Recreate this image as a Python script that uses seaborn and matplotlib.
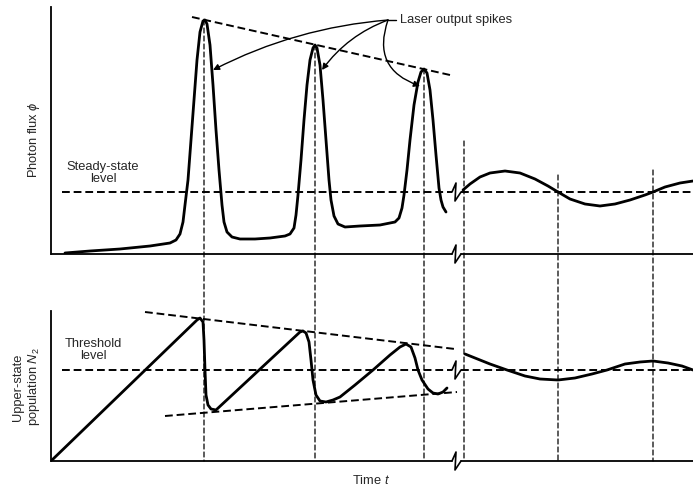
import matplotlib
matplotlib.use("Agg")
import matplotlib.pyplot as plt
import seaborn as sns
from matplotlib.patches import ConnectionPatch

# ---------------- data (time in arbitrary units) ----------------
# photon flux, spiking part (before the time-axis break)
flux_t1 = [14, 39, 69, 99, 119, 125, 129, 132, 134, 137, 140, 143, 146, 149, 152, 154,
           156, 159, 162, 165, 168, 171, 173, 176, 181, 189, 204, 219, 234, 239, 243,
           245, 247, 250, 253, 256, 259, 262, 264, 266, 269, 272, 275, 278, 280, 283,
           287, 294, 309, 329, 344, 348, 351, 353, 356, 359, 363, 367, 370, 373, 376,
           379, 382, 385, 388, 390, 392, 395]
flux_v1 = [1, 3, 5, 8, 11, 14, 20, 32, 49, 74, 114, 154, 194, 222, 233, 234,
           230, 209, 169, 124, 84, 49, 32, 22, 17, 15, 15, 16, 18, 20, 26,
           39, 59, 94, 134, 169, 194, 206, 209, 206, 189, 154, 114, 74, 54, 38,
           30, 27, 28, 29, 32, 36, 46, 59, 84, 114, 149, 172, 182, 185, 181,
           164, 134, 99, 66, 54, 47, 42]
# photon flux, damped oscillation (after the break)
flux_t2 = [412, 419, 429, 439, 454, 469, 484, 497, 507, 519, 534, 549, 564, 579, 594,
           602, 614, 629, 642]
flux_v2 = [64, 70, 77, 81, 83, 81, 75, 68, 62, 55, 50, 48, 50, 54, 59,
           62, 67, 71, 73]
# upper-state population, spiking part
pop_t1 = [0, 146, 149, 152, 153, 154, 155, 157, 160, 165, 249, 252, 255, 258, 260, 262,
          265, 269, 275, 282, 289, 304, 322, 339, 349, 355, 360, 364, 367, 371, 377,
          382, 387, 392, 396]
pop_v1 = [0, 141, 143, 139, 121, 91, 66, 56, 52, 51, 129, 130, 128, 119, 101, 81,
          66, 60, 59, 61, 64, 76, 91, 106, 114, 117, 114, 103, 91, 81, 72,
          68, 67, 69, 73]
# upper-state population, damped oscillation
pop_t2 = [414, 424, 439, 456, 474, 489, 507, 524, 541, 556, 574, 589, 602, 617, 631, 642]
pop_v2 = [107, 103, 97, 91, 85, 82, 81, 83, 87, 91, 97, 99, 100, 98, 95, 91]

steady_level = 62
threshold_level = 91
flux_env_t, flux_env_v = [141, 399], [237, 179]
pop_upper_t, pop_upper_v = [94, 404], [149, 112]
pop_lower_t, pop_lower_v = [114, 406], [45, 69]
marker_t = [153, 264, 373, 413, 507, 602]
marker_top = [234, 209, 185, 113, 79, 84]
arrow_src = (337, 234)
arrow_tgt_t = [162, 271, 369]
arrow_tgt_v = [184, 184, 168]
arrow_rad = [0.1, 0.15, 0.5]
break_t = [401, 405, 404, 410]
break_dy = [0, 9, -9, 0]

# ---------------- figure ----------------
sns.set_theme(style="white")
plt.rcParams["font.family"] = ["Liberation Sans", "DejaVu Sans"]
plt.rcParams["mathtext.fontset"] = "custom"
plt.rcParams["mathtext.it"] = "Liberation Sans:italic"
plt.rcParams["mathtext.rm"] = "Liberation Sans"

W, H = 693, 488
fig = plt.figure(figsize=(W / 100, H / 100), dpi=100)
ax1 = fig.add_axes([51 / W, (H - 254) / H, 642 / W, 247 / H])
ax2 = fig.add_axes([51 / W, (H - 461) / H, 642 / W, 150 / H])
ax1.set_xlim(0, 642); ax1.set_ylim(0, 247)
ax2.set_xlim(0, 642); ax2.set_ylim(0, 150)

for ax in (ax1, ax2):
    for s in ("top", "right", "bottom"):
        ax.spines[s].set_visible(False)
    ax.spines["left"].set_linewidth(1.3)
    ax.spines["left"].set_color("black")
    ax.set_xticks([]); ax.set_yticks([])
    ax.set_xlabel(""); ax.set_ylabel("")
    ax.patch.set_alpha(0)

K = "black"
DASH_H = (0, (4, 2))
DASH_V = (0, (4, 2.4))

# time axes with break symbol
for ax in (ax1, ax2):
    ax.plot([0, break_t[0]], [0, 0], color=K, lw=1.3, clip_on=False)
    ax.plot(break_t, break_dy, color=K, lw=1.2, clip_on=False)
    ax.plot([break_t[-1], 642], [0, 0], color=K, lw=1.3, clip_on=False)

# reference levels with break symbol
for ax, lvl in ((ax1, steady_level), (ax2, threshold_level)):
    ax.plot([11, break_t[0]], [lvl, lvl], color=K, lw=1.4, ls=DASH_H)
    ax.plot(break_t, [lvl + d for d in break_dy], color=K, lw=1.2)
    ax.plot([break_t[-1], 642], [lvl, lvl], color=K, lw=1.4, ls=DASH_H)

# envelopes
ax1.plot(flux_env_t, flux_env_v, color=K, lw=1.4, ls=DASH_H)
ax2.plot(pop_upper_t, pop_upper_v, color=K, lw=1.4, ls=DASH_H)
ax2.plot(pop_lower_t, pop_lower_v, color=K, lw=1.4, ls=DASH_H)

# curves
for ax, t, v in ((ax1, flux_t1, flux_v1), (ax1, flux_t2, flux_v2),
                 (ax2, pop_t1, pop_v1), (ax2, pop_t2, pop_v2)):
    sns.lineplot(x=t, y=v, ax=ax, color=K, lw=2.0, sort=False,
                 estimator=None, legend=False)
ax1.set_xlim(0, 642); ax1.set_ylim(0, 247)
ax2.set_xlim(0, 642); ax2.set_ylim(0, 150)
for ax in (ax1, ax2):
    ax.set_xlabel(""); ax.set_ylabel("")
    ax.set_xticks([]); ax.set_yticks([])

# vertical time markers spanning both panels
for t, top in zip(marker_t, marker_top):
    con = ConnectionPatch(xyA=(t, top), coordsA=ax1.transData,
                          xyB=(t, 0), coordsB=ax2.transData,
                          color=K, lw=0.9, ls=DASH_V)
    fig.add_artist(con)

# annotation
FS = 9.3
ax1.plot([arrow_src[0], arrow_src[0] + 8], [arrow_src[1], arrow_src[1]], color=K, lw=1.0)
ax1.text(arrow_src[0] + 12, arrow_src[1], "Laser output spikes", ha="left",
         va="center", fontsize=FS)
for tt, vv, rad in zip(arrow_tgt_t, arrow_tgt_v, arrow_rad):
    ax1.annotate("", xy=(tt, vv), xytext=arrow_src,
                 arrowprops=dict(arrowstyle="-|>", color=K, lw=1.0,
                                 connectionstyle=f"arc3,rad={rad}",
                                 shrinkA=0, shrinkB=0, mutation_scale=9))

# labels
ax1.text(-17, 114, r"Photon flux $\phi$", rotation=90, ha="center", va="center",
         fontsize=FS, clip_on=False)
ax1.text(52, 81, "Steady-state\nlevel", ha="center", va="center", fontsize=FS,
         multialignment="center", linespacing=1.0)
ax2.text(-24, 74, "Upper-state\npopulation $N_2$", rotation=90, ha="center",
         va="center", fontsize=FS, multialignment="center", linespacing=1.1,
         clip_on=False)
ax2.text(42, 111, "Threshold\nlevel", ha="center", va="center", fontsize=FS,
         multialignment="center", linespacing=1.0)
ax2.text(320, -19, "Time $t$", ha="center", va="center", fontsize=FS, clip_on=False)

fig.savefig("out.png", dpi=100)
